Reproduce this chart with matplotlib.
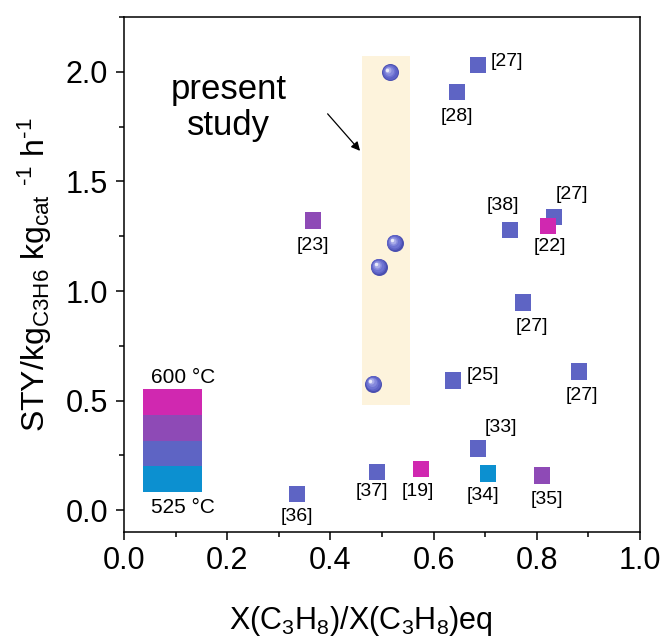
import matplotlib
matplotlib.use("Agg")
import matplotlib.pyplot as plt
from matplotlib.patches import Rectangle
from matplotlib.ticker import MultipleLocator
import matplotlib.transforms as mtransforms

plt.rcParams['font.family'] = ['Liberation Sans', 'DejaVu Sans']
plt.rcParams['mathtext.default'] = 'regular'

# literature data (squares)
lit_x = [0.686, 0.645, 0.366, 0.748, 0.833, 0.822, 0.773, 0.882, 0.638, 0.686, 0.490, 0.576, 0.705, 0.810, 0.335]
lit_y = [2.033, 1.906, 1.322, 1.280, 1.336, 1.295, 0.948, 0.633, 0.592, 0.282, 0.173, 0.187, 0.168, 0.159, 0.073]
lit_ref = ['[27]', '[28]', '[23]', '[38]', '[27]', '[22]', '[27]', '[27]', '[25]', '[33]', '[37]', '[19]', '[34]', '[35]', '[36]']
lit_temp = [550, 550, 575, 550, 550, 600, 550, 550, 550, 550, 550, 600, 525, 575, 550]
# label offsets in pixels
lab_dx = [29, 0, 0, -7, 18, 2, 9, 3, 30, 23, -5, -3, -5, 5, 0]
lab_dy = [3, -24, -25, 24, 23, -20, -24, -24, 5, 21, -19, -22, -22, -24, -22]

# present study (spheres)
ps_x = [0.516, 0.525, 0.494, 0.483]
ps_y = [1.997, 1.220, 1.110, 0.578]

temp_levels = [525, 550, 575, 600]
temp_colors = {525: '#0c90d0', 550: '#5e64c4', 575: '#8e4ab6', 600: '#d028b0'}

fig = plt.figure(figsize=(6.67, 6.42), dpi=100)
ax = fig.add_axes([0.186, 0.171, 0.7735, 0.8025])

# shaded band for present study
ax.add_patch(Rectangle((0.461, 0.478), 0.094, 1.595, facecolor='#fdf3dc', edgecolor='none', zorder=0))

# squares
ax.scatter(lit_x, lit_y, marker='s', s=135, c=[temp_colors[t] for t in lit_temp],
           edgecolors='none', zorder=3)
for x, y, r, dx, dy in zip(lit_x, lit_y, lit_ref, lab_dx, lab_dy):
    ax.annotate(r, (x, y), xytext=(dx, dy), textcoords='offset pixels',
                ha='center', va='center', fontsize=14, zorder=4)

# spheres: layered circles to mimic shading
layers = [(17, '#4a4fb0', 0, 0), (15, '#5d62c6', -0.5, 0.5), (12, '#6e73d2', -1, 1),
          (9, '#8589dc', -1.7, 1.7), (6, '#a8abe8', -2.3, 2.3), (3.5, '#e8e9fa', -2.8, 2.8)]
for ms, col, ox, oy in layers:
    tr = mtransforms.offset_copy(ax.transData, fig=fig, x=ox, y=oy, units='dots')
    ax.plot(ps_x, ps_y, 'o', ms=ms * 0.72, color=col, mec='none', transform=tr, zorder=5)

# temperature colour bar
bar_x0, bar_w = 0.036, 0.116
bar_y0, bar_y1 = 0.085, 0.551
h = (bar_y1 - bar_y0) / len(temp_levels)
for i, t in enumerate(temp_levels):
    ax.add_patch(Rectangle((bar_x0, bar_y0 + i * h), bar_w, h, facecolor=temp_colors[t],
                           edgecolor='none', zorder=2))
ax.text(0.114, 0.606, '600 °C', ha='center', va='center', fontsize=15)
ax.text(0.114, 0.014, '525 °C', ha='center', va='center', fontsize=15)

# annotation
ax.text(0.203, 1.836, 'present\nstudy', ha='center', va='center', fontsize=25, linespacing=1.1)
ax.annotate('', xy=(0.461, 1.63), xytext=(0.391, 1.818),
            arrowprops=dict(arrowstyle='-|>', color='black', lw=0.9, mutation_scale=13))

ax.set_xlim(0, 1.0)
ax.set_ylim(-0.1, 2.25)
ax.xaxis.set_major_locator(MultipleLocator(0.2))
ax.xaxis.set_minor_locator(MultipleLocator(0.1))
ax.yaxis.set_major_locator(MultipleLocator(0.5))
ax.yaxis.set_minor_locator(MultipleLocator(0.25))
ax.tick_params(which='major', direction='out', length=6, width=1.1, labelsize=22, pad=4)
ax.tick_params(axis='y', which='major', pad=5.5)
ax.tick_params(which='minor', direction='out', length=3.5, width=1.1)
for sp in ax.spines.values():
    sp.set_linewidth(1.1)

ax.set_xlabel('X(C$_3$H$_8$)/X(C$_3$H$_8$)eq', fontsize=22, labelpad=20)
ax.xaxis.label.set_x(0.46)
ax.set_ylabel('STY/kg$_{C3H6}$ kg$_{cat}$ $^{\u20101}$ h$^{\u20101}$', fontsize=23, labelpad=8)

fig.savefig('out.png', dpi=100)
